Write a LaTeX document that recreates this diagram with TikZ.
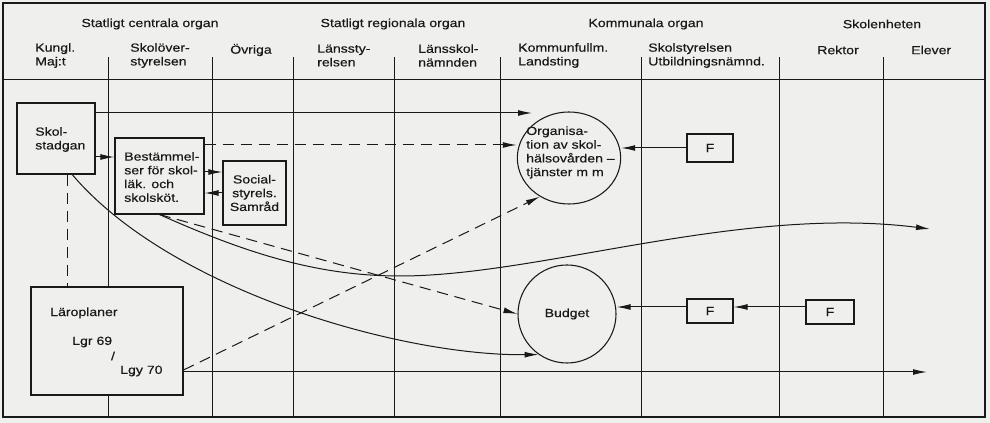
\documentclass[tikz,border=0pt]{standalone}
\usepackage{fontspec}
\setmainfont{Liberation Sans}[FakeStretch=1.2,FakeBold=0.35]
\usetikzlibrary{arrows.meta,calc,shapes.geometric}
\definecolor{bg}{RGB}{239,239,237}
\definecolor{ink}{RGB}{25,25,25}
\begin{document}
\begin{tikzpicture}[x=0.75pt,y=-0.75pt,
  every node/.style={font=\fontsize{8.8pt}{10.3pt}\selectfont, text=ink},
  ln/.style={line width=0.7pt, draw=ink},
  bx/.style={draw=ink, line width=0.8pt, fill=bg, inner sep=0pt},
  txt/.style={inner sep=0pt, anchor=west, align=left},
  arr/.style={line width=0.75pt, draw=ink, -{Latex[length=10.5pt,width=4.4pt]}},
  dsh/.style={dash pattern=on 8.5pt off 5pt}]
\useasboundingbox (0,0) rectangle (990,423);
\fill[bg] (0,0) rectangle (990,423);
% frame
\draw[draw=ink,line width=1pt] (3,3) rectangle (985,417);
\draw[ln] (3,79) -- (985,79);
\foreach \x in {108,212,293,394,500,641,779,883} \draw[ln] (\x,57) -- (\x,417);
% header
\node (h1) at (150,24) {Statligt centrala organ};
\node (h2) at (393,24) {Statligt regionala organ};
\node (h3) at (646,24) {Kommunala organ};
\node (h4) at (882,24) {Skolenheten};
\node[txt] (c1) at (35,55.5) {Kungl.\\Maj:t};
\node[txt] (c2) at (130,55.5) {Skolöver-\\styrelsen};
\node[txt] (c3) at (230,50) {Övriga};
\node[txt] (c4) at (317,55.5) {Länssty-\\relsen};
\node[txt] (c5) at (418,55.5) {Länsskol-\\nämnden};
\node[txt] (c6) at (518,55.5) {Kommunfullm.\\Landsting};
\node[txt] (c7) at (648,55.5) {Skolstyrelsen\\Utbildningsnämnd.};
\node[txt] (c8) at (817,50) {Rektor};
\node[txt] (c9) at (911,50) {Elever};
% boxes
\node[bx, minimum width=58.5pt, minimum height=53.25pt] (skol) at (56,138.5) {};
\node[txt] (skolt) at (35,139.5) {Skol-\\stadgan};
\node[bx, minimum width=66.75pt, minimum height=57pt] (best) at (159.5,176) {};
\node[txt] (bestt) at (124,177) {Bestämmel-\\ser för skol-\\läk. och\\skolsköt.};
\node[bx, minimum width=47.25pt, minimum height=48pt, align=center] (soc) at (254.5,193) {Social-\\styrels.\\Samråd};
\node[bx, minimum width=114pt, minimum height=81pt] (lar) at (107,341) {};
\node[txt] (lart1) at (50,313) {Läroplaner};
\node[txt] (lart2) at (72,342) {Lgr 69};
\node[inner sep=0pt] (lart3) at (113,356) {/};
\node[txt] (lart4) at (120,371) {Lgy 70};
\node[ellipse, draw=ink, line width=0.8pt, fill=bg, minimum width=77.5pt, minimum height=69pt, inner sep=0pt] (org) at (569,158) {};
\node[txt] (orgt) at (526,152.5) {Organisa-\\tion av skol-\\hälsovården –\\tjänster m m};
\node[circle, draw=ink, line width=0.8pt, fill=bg, minimum size=73.5pt, inner sep=0pt] (bud) at (567,314) {Budget};
\node[bx, minimum width=34.5pt, minimum height=21pt] (f1) at (710,148) {F};
\node[bx, minimum width=34.5pt, minimum height=18pt] (f2) at (710,311) {F};
\node[bx, minimum width=36pt, minimum height=18pt] (f3) at (830,312) {F};
% helper coordinates
\coordinate (h113) at (0,113);
\coordinate (h145) at (0,145);
\coordinate (h157) at (0,157);
\coordinate (h172) at (0,172);
\coordinate (h193) at (0,193);
\coordinate (h307) at (0,307);
\coordinate (h370) at (0,370);
\coordinate (h372) at (0,372);
\coordinate (endA) at (930,229);
\coordinate (endB) at (927,372);
\coordinate (cs) at ($(skol.south west)!0.705!(skol.south east)$);
\coordinate (ds) at ($(skol.south west)!0.65!(skol.south east)$);
% connectors
\draw[arr] (skol.east |- h113) -- (org.north west |- h113);
\draw[arr] (skol.east |- h157) -- (best.west |- h157);
\draw[arr,dsh] (best.east |- h145) -- (org.west |- h145);
\draw[arr] (best.east |- h172) -- (soc.west |- h172);
\draw[arr] (soc.west |- h193) -- (best.east |- h193);
\draw[ln,dsh] (ds) -- (ds |- lar.north);
\draw[arr] (cs) .. controls (170,290) and (400,356) .. (bud.235);
\draw[arr] (best.south) .. controls (250,255) and (320,276) .. (400,276)
   .. controls (540,276) and (740,205) .. (endA);
\draw[arr,dsh] (best.south) -- (bud.west);
\draw[arr,dsh] (lar.east |- h370) -- (org.233);
\draw[arr] (lar.east |- h372) -- (endB);
\draw[arr] (f1.west) -- (org.east |- f1.west);
\draw[arr] (f2.west |- h307) -- (bud.east |- h307);
\draw[arr] (f3.west |- h307) -- (f2.east |- h307);
\end{tikzpicture}
\end{document}
